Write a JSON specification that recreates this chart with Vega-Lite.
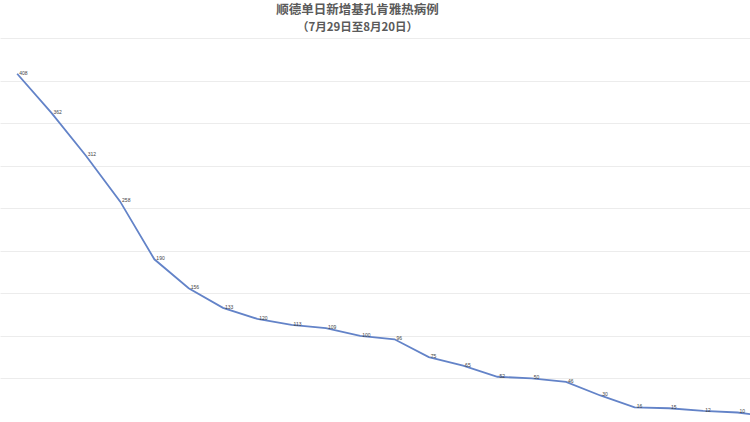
{
  "$schema": "https://vega.github.io/schema/vega-lite/v6.json",
  "title": {
    "text": "顺德单日新增基孔肯雅热病例",
    "subtitle": "（7月29日至8月20日）",
    "font": "Noto Sans CJK SC",
    "subtitleFont": "Noto Sans CJK SC",
    "fontSize": 12.5,
    "subtitleFontSize": 11.5,
    "fontWeight": "bold",
    "subtitleFontWeight": "bold",
    "color": "#5a5a5a",
    "subtitleColor": "#5a5a5a",
    "anchor": "middle",
    "dx": -37,
    "offset": 5,
    "subtitlePadding": 5
  },
  "autosize": "none",
  "padding": {"top": 38, "left": 0, "right": 0, "bottom": 0},
  "width": 789,
  "height": 383,
  "background": "white",
  "data": {
    "values": [
      {"date": "7月29日", "cases": 408},
      {"date": "7月30日", "cases": 362},
      {"date": "7月31日", "cases": 312},
      {"date": "8月1日", "cases": 258},
      {"date": "8月2日", "cases": 190},
      {"date": "8月3日", "cases": 156},
      {"date": "8月4日", "cases": 133},
      {"date": "8月5日", "cases": 120},
      {"date": "8月6日", "cases": 113},
      {"date": "8月7日", "cases": 109},
      {"date": "8月8日", "cases": 100},
      {"date": "8月9日", "cases": 96},
      {"date": "8月10日", "cases": 75},
      {"date": "8月11日", "cases": 65},
      {"date": "8月12日", "cases": 52},
      {"date": "8月13日", "cases": 50},
      {"date": "8月14日", "cases": 46},
      {"date": "8月15日", "cases": 30},
      {"date": "8月16日", "cases": 16},
      {"date": "8月17日", "cases": 15},
      {"date": "8月18日", "cases": 12},
      {"date": "8月19日", "cases": 10},
      {"date": "8月20日", "cases": 5}
    ]
  },
  "encoding": {
    "x": {
      "field": "date",
      "type": "ordinal",
      "sort": null,
      "scale": {"type": "point", "padding": 0.5},
      "axis": null
    },
    "y": {
      "field": "cases",
      "type": "quantitative",
      "scale": {"domain": [0, 450]},
      "axis": {
        "values": [0, 50, 100, 150, 200, 250, 300, 350, 400, 450],
        "labels": false,
        "ticks": false,
        "domain": false,
        "title": null,
        "gridColor": "#ececec",
        "gridWidth": 1
      }
    }
  },
  "layer": [
    {
      "mark": {"type": "line", "color": "#6383c8", "strokeWidth": 1.8}
    },
    {
      "mark": {
        "type": "text",
        "align": "left",
        "baseline": "middle",
        "dx": 2,
        "dy": -1,
        "fontSize": 5,
        "font": "Liberation Sans",
        "color": "#444444"
      },
      "encoding": {"text": {"field": "cases", "type": "quantitative"}}
    }
  ],
  "config": {"view": {"stroke": null}}
}
